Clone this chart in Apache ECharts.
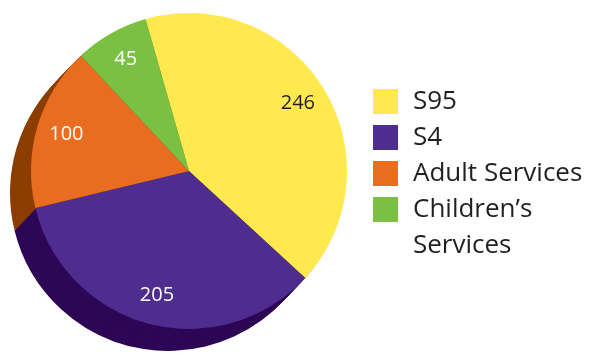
<!DOCTYPE html>
<html>
<head>
<meta charset="utf-8">
<script src="https://cdn.jsdelivr.net/npm/echarts@6/dist/echarts.min.js"></script>
<style>
html,body{margin:0;padding:0;background:#fff;}
#c{width:590px;height:355px;}
</style>
</head>
<body>
<div id="c"></div>
<script>
const categories = ["S95", "S4", "Adult Services", "Children’s Services"];
const values = [246, 205, 100, 45];
const topColors = ["#FFE94F", "#4F2D8F", "#E96D20", "#7AC043"];
const sideColors = ["#8A7A1E", "#2E0656", "#8C3D00", "#3E6B1F"];
const labelColors = ["#231F20", "#FFFFFF", "#FFFFFF", "#FFFFFF"];

const cx = 189, cy = 171, R = 158, START = 106;
const FONT = "'Open Sans', 'Noto Sans', sans-serif";

const series = [];
const steps = 14;
const offX = -21, offY = 22;
for (let s = steps; s >= 1; s--) {
  series.push({
    type: 'pie',
    silent: true,
    startAngle: START,
    clockwise: true,
    radius: [0, R],
    center: [cx + offX * s / steps, cy + offY * s / steps],
    label: { show: false },
    labelLine: { show: false },
    emphasis: { disabled: true },
    itemStyle: { borderWidth: 0 },
    data: categories.map((n, i) => ({ name: n, value: values[i], itemStyle: { color: sideColors[i] } }))
  });
}
series.push({
  type: 'pie',
  silent: true,
  startAngle: START,
  clockwise: true,
  radius: [0, R],
  center: [cx, cy],
  label: { show: false },
  labelLine: { show: false },
  emphasis: { disabled: true },
  itemStyle: { borderWidth: 0 },
  data: categories.map((n, i) => ({ name: n, value: values[i], itemStyle: { color: topColors[i] } }))
});
// label ring (transparent)
series.push({
  type: 'pie',
  silent: true,
  startAngle: START,
  clockwise: true,
  radius: [0, 250],
  center: [cx, cy],
  legendHoverLink: false,
  label: {
    show: true,
    position: 'inside',
    fontFamily: FONT,
    fontSize: 20,
    formatter: p => String(p.value)
  },
  labelLine: { show: false },
  emphasis: { disabled: true },
  itemStyle: { color: 'rgba(0,0,0,0)' },
  data: categories.map((n, i) => ({ name: n + ' ', value: values[i], label: { color: labelColors[i] } }))
});

const legendBase = {
  orient: 'vertical',
  left: 373,
  padding: 0,
  itemWidth: 25,
  itemHeight: 25,
  itemGap: 0,
  icon: 'rect',
  selectedMode: false,
  textStyle: {
    fontFamily: FONT,
    fontSize: 26,
    color: '#231F20',
    lineHeight: 36,
    padding: [0, 0, 0, 10]
  }
};
const last = categories.length - 1;

const chart = echarts.init(document.getElementById('c'), null, { renderer: 'canvas' });
chart.setOption({
  animation: false,
  color: topColors,
  legend: [
    Object.assign({}, legendBase, {
      top: 83.5,
      data: categories.slice(0, last).map((n, i) => ({ name: n, itemStyle: { color: topColors[i] } }))
    }),
    Object.assign({}, legendBase, {
      top: 155.5,
      formatter: n => '\n' + n.replace('Children’s ', 'Children’s\n'),
      data: [{ name: categories[last], itemStyle: { color: topColors[last] } }]
    })
  ],
  series: series
});
</script>
</body>
</html>
